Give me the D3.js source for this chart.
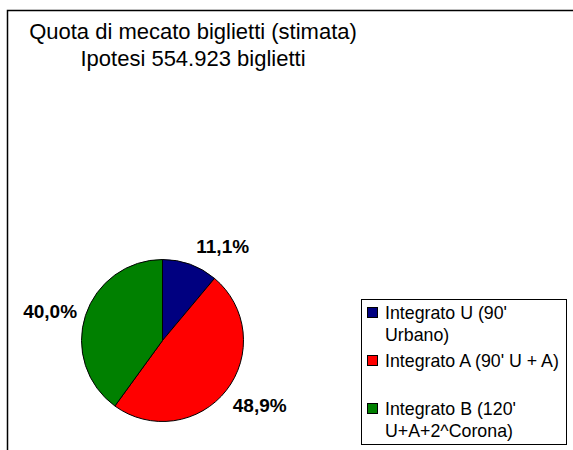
<!DOCTYPE html>
<html>
<head>
<meta charset="utf-8">
<script src="https://cdn.jsdelivr.net/npm/d3@7"></script>
<style>
  html, body { margin: 0; padding: 0; background: #fff; }
  svg { display: block; font-family: Arial, "Liberation Sans", sans-serif; }
</style>
</head>
<body>
<svg id="chart" width="573" height="450"></svg>
<script>
const titleLines = ["Quota di mecato biglietti (stimata)", "Ipotesi 554.923 biglietti"];
const categories = ["Integrato U (90' Urbano)", "Integrato A (90' U + A)", "Integrato B (120' U+A+2^Corona)"];
const legendLines = [["Integrato U (90'", "Urbano)"], ["Integrato A (90' U + A)"], ["Integrato B (120'", "U+A+2^Corona)"]];
const values = [11.1, 48.9, 40.0];
const valueLabels = ["11,1%", "48,9%", "40,0%"];
const colors = ["#000080", "#FF0000", "#008000"];

const svg = d3.select("#chart");

// chart area border (extends beyond the visible window on right/bottom)
svg.append("rect")
  .attr("x", 7.5).attr("y", 10.5)
  .attr("width", 800).attr("height", 800)
  .attr("fill", "none").attr("stroke", "#000").attr("stroke-width", 1.5);

// title
const title = svg.append("text")
  .attr("text-anchor", "middle")
  .attr("font-size", 22)
  .attr("fill", "#000");
title.selectAll("tspan").data(titleLines).join("tspan")
  .attr("x", 193)
  .attr("y", (d, i) => 39 + i * 27)
  .text(d => d);

// pie
const cx = 162.5, cy = 340.5, r = 81;
const pie = d3.pie().sort(null).value(d => d);
const arcs = pie(values);
const arc = d3.arc().innerRadius(0).outerRadius(r);
const g = svg.append("g").attr("transform", `translate(${cx},${cy})`);
g.selectAll("path").data(arcs).join("path")
  .attr("d", arc)
  .attr("fill", (d, i) => colors[i])
  .attr("stroke", "#000")
  .attr("stroke-width", 1);

// labels
const labelR = 93;
g.selectAll("text.lbl").data(arcs).join("text")
  .attr("class", "lbl")
  .attr("font-size", 19)
  .attr("font-weight", "bold")
  .attr("fill", "#000")
  .each(function (d, i) {
    const a = (d.startAngle + d.endAngle) / 2;
    const px = labelR * Math.sin(a);
    const py = -labelR * Math.cos(a);
    const c = Math.cos(a);
    let by, dx;
    if (c > 0.5) { by = py; dx = 2; }
    else if (c < -0.5) { by = py + 14; dx = -3; }
    else { by = py + 6; dx = 3; }
    d3.select(this)
      .attr("x", px + dx)
      .attr("y", by)
      .attr("text-anchor", px >= 0 ? "start" : "end")
      .text(valueLabels[i]);
  });

// legend
const lg = svg.append("g");
lg.append("rect")
  .attr("x", 361.5).attr("y", 299.5)
  .attr("width", 205).attr("height", 145)
  .attr("fill", "#fff").attr("stroke", "#000").attr("stroke-width", 1);
const items = lg.selectAll("g.item").data(categories).join("g")
  .attr("class", "item")
  .attr("transform", (d, i) => `translate(0,${319 + i * 48})`);
items.append("rect")
  .attr("x", 367.5).attr("y", -11.5)
  .attr("width", 10).attr("height", 10)
  .attr("fill", (d, i) => colors[i])
  .attr("stroke", "#000").attr("stroke-width", 1);
items.each(function (d, i) {
  const t = d3.select(this).append("text")
    .attr("font-size", 17.8).attr("fill", "#000");
  t.selectAll("tspan").data(legendLines[i]).join("tspan")
    .attr("x", 385)
    .attr("y", (s, j) => j * 22)
    .text(s => s);
});
</script>
</body>
</html>
